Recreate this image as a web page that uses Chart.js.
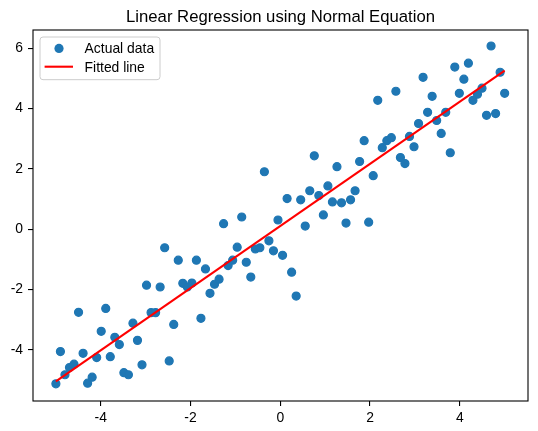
<!DOCTYPE html>
<html>
<head>
<meta charset="utf-8">
<script src="https://cdn.jsdelivr.net/npm/chart.js@4.4.0/dist/chart.umd.min.js"></script>
<style>
  html, body { margin: 0; padding: 0; background: #fff; }
  canvas { display: block; }
</style>
</head>
<body>
<canvas id="chart" width="538" height="431"></canvas>
<script>
const xValues = [
  -5.000, -4.899, -4.798, -4.697, -4.596, -4.495, -4.394, -4.293, -4.192, -4.091,
  -3.990, -3.889, -3.788, -3.687, -3.586, -3.485, -3.384, -3.283, -3.182, -3.081,
  -2.980, -2.879, -2.778, -2.677, -2.576, -2.475, -2.374, -2.273, -2.172, -2.071,
  -1.970, -1.869, -1.768, -1.667, -1.566, -1.465, -1.364, -1.263, -1.162, -1.061,
  -0.960, -0.859, -0.758, -0.657, -0.556, -0.455, -0.354, -0.253, -0.152, -0.051,
   0.051,  0.152,  0.253,  0.354,  0.455,  0.556,  0.657,  0.758,  0.859,  0.960,
   1.061,  1.162,  1.263,  1.364,  1.465,  1.566,  1.667,  1.768,  1.869,  1.970,
   2.071,  2.172,  2.273,  2.374,  2.475,  2.576,  2.677,  2.778,  2.879,  2.980,
   3.081,  3.182,  3.283,  3.384,  3.485,  3.586,  3.687,  3.788,  3.889,  3.990,
   4.091,  4.192,  4.293,  4.394,  4.495,  4.596,  4.697,  4.798,  4.899,  5.000
];
const yValues = [
  -5.13, -4.06, -4.83, -4.59, -4.48, -2.76, -4.12, -5.11, -4.91, -4.26,
  -3.39, -2.63, -4.23, -3.59, -3.83, -4.76, -4.83, -3.12, -3.69, -4.50,
  -1.86, -2.77, -2.77, -1.92, -0.62, -4.37, -3.16, -1.03, -1.80, -1.92,
  -1.79, -1.03, -2.96, -1.32, -2.13, -1.83, -1.66,  0.18, -1.21, -1.03,
  -0.60,  0.40, -1.10, -1.59, -0.66, -0.62,  1.90, -0.39, -0.72,  0.30,
  -0.87,  1.01, -1.43, -2.22,  0.97,  0.10,  1.27,  2.43,  1.11,  0.47,
   1.43,  0.90,  2.07,  0.87,  0.20,  0.97,  1.27,  2.24,  2.93,  0.23,
   1.77,  4.27,  2.70,  2.93,  3.03,  4.57,  2.37,  2.17,  3.07,  2.73,
   3.50,  5.03,  3.87,  4.40,  3.60,  3.17,  3.87,  2.53,  5.37,  4.50,
   4.97,  5.50,  4.27,  4.47,  4.67,  3.77,  6.07,  3.83,  5.20,  4.50
];
const lineX = [-5, 5];
const lineY = [-5.05, 5.25];
const xTicks = [-4, -2, 0, 2, 4];
const yTicks = [-4, -2, 0, 2, 4, 6];
const titleText = 'Linear Regression using Normal Equation';
const seriesLabels = ['Actual data', 'Fitted line'];

const FONT = '"Liberation Sans", Arial, sans-serif';
const BLUE = '#1f77b4';

// box, title and legend drawn the matplotlib way
const decor = {
  id: 'decor',
  afterDatasetsDraw(chart) {
    const { ctx, chartArea: a } = chart;
    ctx.save();

    ctx.strokeStyle = '#000';
    ctx.lineWidth = 1.1;
    ctx.strokeRect(a.left, a.top, a.right - a.left, a.bottom - a.top);

    ctx.fillStyle = '#000';
    ctx.font = '16.7px ' + FONT;
    ctx.textAlign = 'center';
    ctx.textBaseline = 'alphabetic';
    ctx.fillText(titleText, (a.left + a.right) / 2, a.top - 8.3);

    // legend
    const lx = a.left + 7, ly = a.top + 7, lw = 120, lh = 42.7, r = 3;
    ctx.beginPath();
    ctx.moveTo(lx + r, ly);
    ctx.arcTo(lx + lw, ly, lx + lw, ly + lh, r);
    ctx.arcTo(lx + lw, ly + lh, lx, ly + lh, r);
    ctx.arcTo(lx, ly + lh, lx, ly, r);
    ctx.arcTo(lx, ly, lx + lw, ly, r);
    ctx.closePath();
    ctx.fillStyle = 'rgba(255,255,255,0.8)';
    ctx.fill();
    ctx.strokeStyle = '#cccccc';
    ctx.lineWidth = 1;
    ctx.stroke();

    const row1 = a.top + 18.4, row2 = a.top + 36.7;
    ctx.fillStyle = BLUE;
    ctx.beginPath();
    ctx.arc(a.left + 26, row1, 4.6, 0, Math.PI * 2);
    ctx.fill();

    ctx.strokeStyle = 'red';
    ctx.lineWidth = 2.1;
    ctx.beginPath();
    ctx.moveTo(a.left + 11.6, row2);
    ctx.lineTo(a.left + 40, row2);
    ctx.stroke();

    ctx.fillStyle = '#000';
    ctx.font = '13.9px ' + FONT;
    ctx.textAlign = 'left';
    ctx.textBaseline = 'middle';
    ctx.fillText(seriesLabels[0], a.left + 51.6, row1 + 1);
    ctx.fillText(seriesLabels[1], a.left + 51.6, row2 + 1);

    ctx.restore();
  }
};

new Chart(document.getElementById('chart'), {
  type: 'scatter',
  data: {
    datasets: [{
      label: seriesLabels[0],
      data: xValues.map((x, i) => ({ x: x, y: yValues[i] })),
      backgroundColor: BLUE,
      borderColor: BLUE,
      borderWidth: 1.2,
      pointRadius: 4,
      pointHoverRadius: 4,
      order: 1
    }, {
      type: 'line',
      label: seriesLabels[1],
      data: lineX.map((x, i) => ({ x: x, y: lineY[i] })),
      borderColor: 'red',
      borderWidth: 2.1,
      pointRadius: 0,
      fill: false,
      order: 0
    }]
  },
  options: {
    responsive: false,
    animation: false,
    layout: { padding: { top: 30, right: 10, left: 0, bottom: 0 } },
    plugins: {
      legend: { display: false },
      title: { display: false },
      tooltip: { enabled: false }
    },
    scales: {
      x: {
        type: 'linear',
        min: -5.51,
        max: 5.52,
        afterFit: s => { s.height = 30; },
        afterBuildTicks: s => { s.ticks = xTicks.map(v => ({ value: v })); },
        border: { display: false },
        grid: { drawOnChartArea: false, drawTicks: true, tickLength: 5, color: '#000', lineWidth: 1.1 },
        ticks: {
          color: '#000',
          padding: 4,
          maxRotation: 0,
          font: { family: FONT, size: 13.9 },
          callback: v => String(v)
        }
      },
      y: {
        type: 'linear',
        min: -5.7,
        max: 6.6,
        afterFit: s => { s.width = 33; },
        afterBuildTicks: s => { s.ticks = yTicks.map(v => ({ value: v })); },
        border: { display: false },
        grid: { drawOnChartArea: false, drawTicks: true, tickLength: 5, color: '#000', lineWidth: 1.1 },
        ticks: {
          color: '#000',
          padding: 5,
          font: { family: FONT, size: 13.9 },
          callback: v => String(v)
        }
      }
    }
  },
  plugins: [decor]
});
</script>
</body>
</html>
